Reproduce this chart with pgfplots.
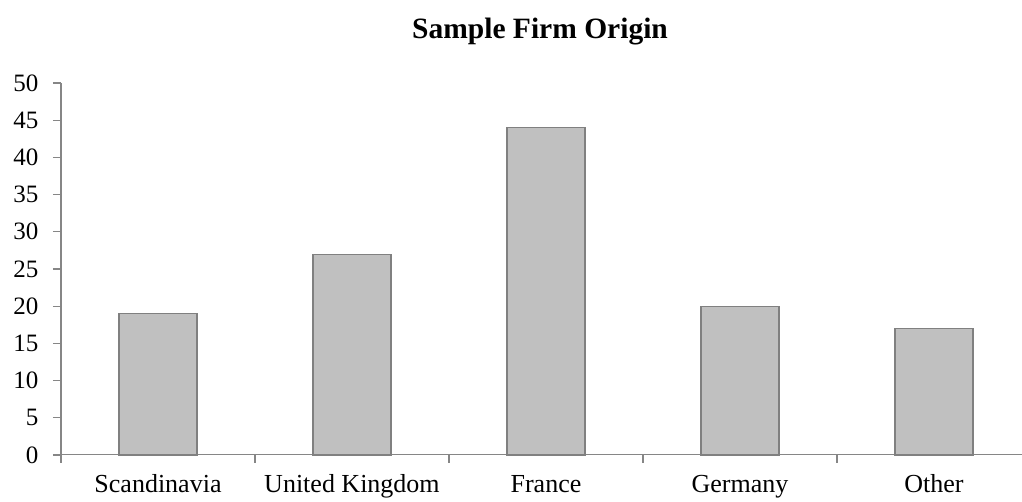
\documentclass[border=0pt]{standalone}
\usepackage{fontspec}
\setmainfont{Liberation Serif}
\usepackage{pgfplots}
\pgfplotsset{compat=1.18}
\definecolor{barfill}{HTML}{C0C0C0}
\definecolor{bardraw}{HTML}{808080}
\definecolor{axisgray}{HTML}{868686}
\begin{document}
\begin{tikzpicture}[x=1pt,y=1pt]
\path[use as bounding box] (-61,-47) rectangle (961,455);
\begin{axis}[
  at={(0,0)}, anchor=south west,
  scale only axis,
  width=961pt, height=372pt,
  xmin=-0.5, xmax=4.454,
  ymin=0, ymax=50,
  ytick={0,5,...,50},
  xtick={-0.5,0.5,1.5,2.5,3.5},
  xticklabels={},
  extra x ticks={0,1,2,3,4},
  extra x tick labels={Scandinavia,United Kingdom,France,Germany,Other},
  extra x tick style={major tick length=0pt, tick style={draw=none}},
  axis lines*=left,
  axis line style={axisgray, line width=1pt},
  tick align=outside,
  major tick length=8pt,
  tick style={draw=axisgray, line width=1.2pt},
  xticklabel style={font=\fontsize{26}{28}\selectfont, text=black, text height=18pt, text depth=6pt, yshift=-16pt},
  yticklabel style={font=\fontsize{25}{28}\selectfont, text=black, xshift=-11pt},
  /pgf/number format/assume math mode=true,
  clip=false,
]
\addplot[ybar, bar width=78pt, fill=barfill, draw=bardraw, line width=1.2pt]
  coordinates {(0,19) (1,27) (2,44) (3,20) (4,17)};
\end{axis}
\node[font=\fontsize{29.5}{32}\selectfont\bfseries] at (479,423) {Sample Firm Origin};
\end{tikzpicture}
\end{document}
